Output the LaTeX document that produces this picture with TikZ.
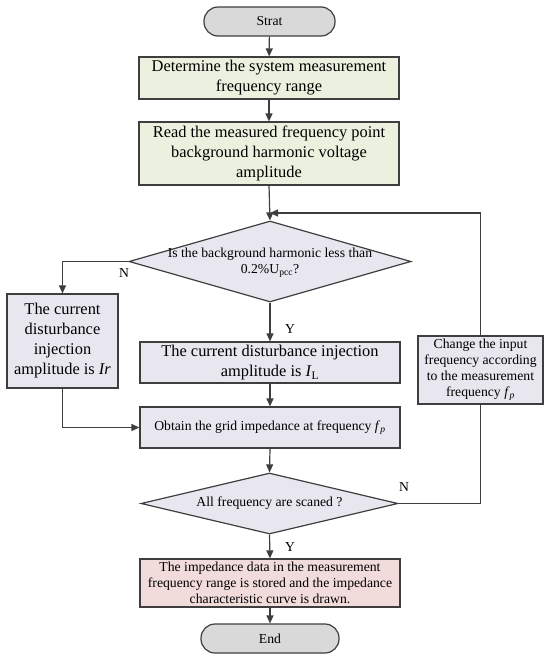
\documentclass[tikz,border=0pt]{standalone}
\usepackage{fontspec}
\setmainfont{Liberation Serif}
\usetikzlibrary{shapes.geometric,arrows.meta}
\definecolor{lineC}{RGB}{62,62,62}
\definecolor{termC}{RGB}{217,217,217}
\definecolor{greenC}{RGB}{235,241,222}
\definecolor{lavC}{RGB}{232,231,240}
\definecolor{pinkC}{RGB}{242,220,219}
\begin{document}
\begin{tikzpicture}[x=1pt,y=-1pt,
  base/.style={draw=lineC, line width=1.2pt, inner sep=0pt, align=center, text=black},
  bigfont/.style={font=\fontsize{16.4}{20}\selectfont},
  smallfont/.style={font=\fontsize{13.7}{16}\selectfont},
  term/.style={base, smallfont, fill=termC, rounded corners=14pt},
  greenbox/.style={base, bigfont, fill=greenC},
  lavbig/.style={base, bigfont, fill=lavC},
  lavsmall/.style={base, smallfont, fill=lavC},
  dia/.style={base, diamond, fill=lavC},
  arr/.style={draw=lineC, line width=1.2pt, -{Triangle[length=8pt,width=7pt]}},
  conn/.style={draw=lineC, line width=1.2pt},
  lab/.style={smallfont, inner sep=0pt}]
\useasboundingbox (0,0) rectangle (550,659);

\node[term, minimum width=131pt, minimum height=29pt] (start) at (269.5,21.5) {Strat};
\node[greenbox, minimum width=260pt, minimum height=42pt] (b1) at (269,78)
  {Determine the system measurement\\frequency range};
\node[greenbox, minimum width=260pt, minimum height=63pt] (b2) at (269,153.5)
  {Read the measured frequency point\\background harmonic voltage\\amplitude};
\node[dia, minimum width=282pt, minimum height=81pt,
  label={[smallfont, align=center, inner sep=0pt, yshift=-1.5pt]center:Is the background harmonic less than\\0.2\%U\textsubscript{pcc}?}] (d1) at (270,261.5) {};
\node[lavbig, minimum width=111pt, minimum height=94pt] (lb) at (62.5,341)
  {The current\\disturbance\\injection\\amplitude is \textit{Ir}};
\node[lavbig, minimum width=260pt, minimum height=41pt] (il) at (270,362.5)
  {The current disturbance injection\\amplitude is \textit{I}\textsubscript{L}};
\node[lavsmall, minimum width=260pt, minimum height=41pt] (ob) at (270,427.5)
  {Obtain the grid impedance at frequency \textit{f}\textsubscript{\textit{p}}};
\node[lavsmall, minimum width=125pt, minimum height=68pt] (rb) at (480.5,370)
  {Change the input\\frequency according\\to the measurement\\frequency \textit{f}\textsubscript{\textit{p}}};
\node[dia, minimum width=257pt, minimum height=61pt,
  label={[smallfont, inner sep=0pt]center:All frequency are scaned ?}] (d2) at (269.5,503.5) {};
\node[base, smallfont, fill=pinkC, minimum width=260pt, minimum height=48pt] (fb) at (270,583)
  {The impedance data in the measurement\\frequency range is stored and the impedance\\characteristic curve is drawn.};
\node[term, minimum width=138pt, minimum height=29pt] (en) at (270,638.5) {End};

\coordinate (j) at (270,213);

\draw[arr] (start) -- (b1);
\draw[arr] (b1) -- (b2);
\draw[arr] (b2.south) -- (d1.north);
\draw[arr] (rb.north) |- (j);
\draw[arr] (d1.west) -| (lb.north);
\draw[arr] (d1.south) -- (il.north);
\draw[arr] (il.south) -- (ob.north);
\draw[arr] (lb.south) |- (ob.west);
\draw[arr] (ob.south) -- (d2.north);
\draw[conn] (d2.east) -| (rb.south);
\draw[arr] (d2.south) -- (fb.north);
\draw[arr] (fb.south) -- (en.north);

\node[lab] (n1) at (124,273) {N};
\node[lab] (y1) at (290,329) {Y};
\node[lab] (n2) at (404,487) {N};
\node[lab] (y2) at (290,547) {Y};
\end{tikzpicture}
\end{document}
